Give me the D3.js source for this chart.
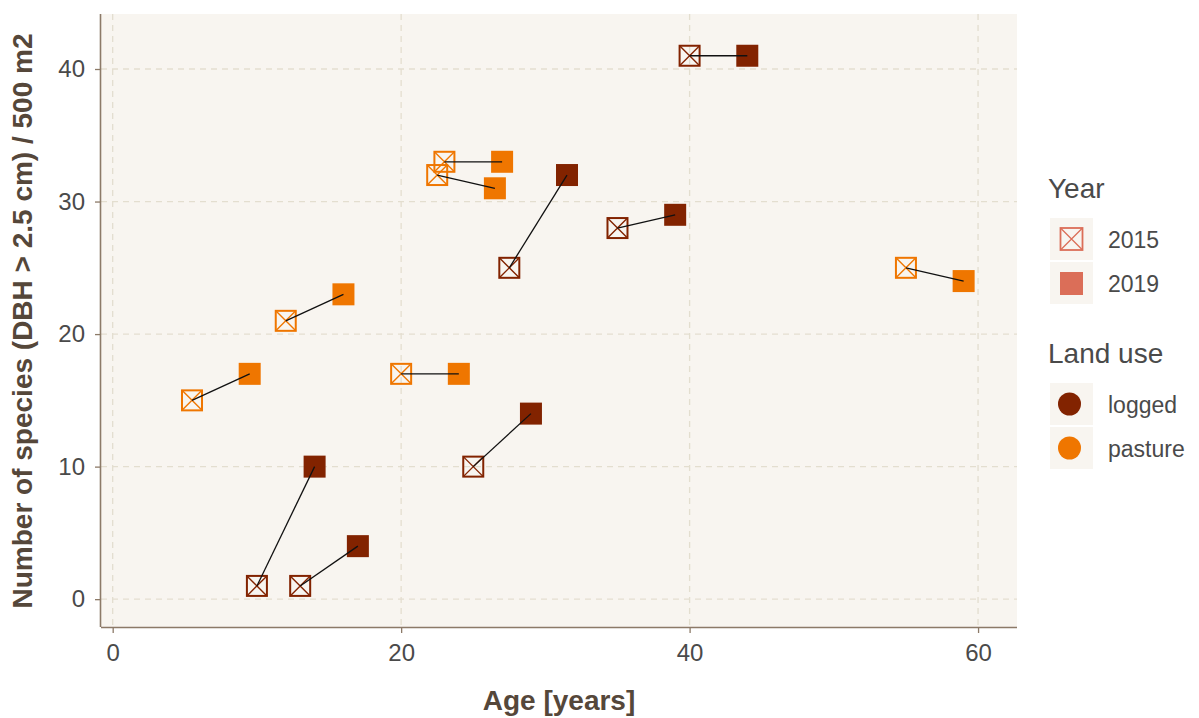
<!DOCTYPE html>
<html>
<head>
<meta charset="utf-8">
<script src="https://cdn.jsdelivr.net/npm/d3@7.9.0/dist/d3.min.js"></script>
<style>
  body { margin: 0; background: #fff; }
  svg { display: block; font-family: "Liberation Sans", Arial, sans-serif; }
</style>
</head>
<body>
<div id="chart"></div>
<script>
// plots: land use, age and species count in 2015 and 2019
const landUse = ['logged', 'logged', 'logged', 'logged', 'logged', 'logged',
                 'pasture', 'pasture', 'pasture', 'pasture', 'pasture', 'pasture'];
const age2015 = [10, 13, 25, 27.5, 35, 40, 5.5, 12, 20, 23, 22.5, 55];
const age2019 = [14, 17, 29, 31.5, 39, 44, 9.5, 16, 24, 27, 26.5, 59];
const species2015 = [1, 1, 10, 25, 28, 41, 15, 21, 17, 33, 32, 25];
const species2019 = [10, 4, 14, 32, 29, 41, 17, 23, 17, 33, 31, 24];

const xTicks = [0, 20, 40, 60];
const yTicks = [0, 10, 20, 30, 40];
const years = ['2015', '2019'];
const landUses = ['logged', 'pasture'];

const width = 1199;
const height = 718;
const panel = { left: 101, right: 1017, top: 14, bottom: 627 };

const color = d3.scaleOrdinal().domain(landUses).range(['#822300', '#EF7600']);
const yearColor = '#DB6E58';
const textColor = '#4A4A4A';

const svg = d3.select('#chart')
    .append('svg')
    .attr('width', width)
    .attr('height', height);

const xScale = d3.scaleLinear().domain([-0.81, 62.7]).range([panel.left, panel.right]);
const yScale = d3.scaleLinear().domain([-2.1, 44.15]).range([panel.bottom, panel.top]);

// panel background
svg.append('rect')
    .attr('x', panel.left)
    .attr('y', panel.top)
    .attr('width', panel.right - panel.left)
    .attr('height', panel.bottom - panel.top)
    .attr('fill', '#F8F5F0');

// gridlines
const grid = svg.append('g').attr('class', 'grid');
grid.selectAll('.vgrid')
    .data(xTicks)
    .enter()
    .append('line')
    .attr('x1', d => xScale(d)).attr('x2', d => xScale(d))
    .attr('y1', panel.top).attr('y2', panel.bottom)
    .attr('stroke', '#E3DECF').attr('stroke-width', 1.3)
    .attr('stroke-dasharray', '6,5');
grid.selectAll('.hgrid')
    .data(yTicks)
    .enter()
    .append('line')
    .attr('y1', d => yScale(d)).attr('y2', d => yScale(d))
    .attr('x1', panel.left).attr('x2', panel.right)
    .attr('stroke', '#E3DECF').attr('stroke-width', 1.3)
    .attr('stroke-dasharray', '6,5');

// axes
const xAxis = svg.append('g')
    .attr('transform', `translate(0, ${panel.bottom})`)
    .call(d3.axisBottom(xScale).tickValues(xTicks).tickSize(6).tickPadding(11).tickSizeOuter(0));
const yAxis = svg.append('g')
    .attr('transform', `translate(${panel.left}, 0)`)
    .call(d3.axisLeft(yScale).tickValues(yTicks).tickSize(6).tickPadding(10).tickSizeOuter(0));

[xAxis, yAxis].forEach(ax => {
    ax.select('.domain').attr('stroke', '#8C7A68').attr('stroke-width', 1.6);
    ax.selectAll('.tick line').attr('stroke', '#8C7A68').attr('stroke-width', 1.3);
    ax.selectAll('.tick text')
        .attr('fill', textColor)
        .attr('font-size', '24px')
        .attr('font-family', '"Liberation Sans", Arial, sans-serif');
});
xAxis.select('.domain').attr('d', `M${panel.left},0.5H${panel.right}`);
yAxis.select('.domain').attr('d', `M-0.5,${panel.top}V${panel.bottom}`);

// axis titles
svg.append('text')
    .attr('x', (panel.left + panel.right) / 2)
    .attr('y', 710)
    .attr('text-anchor', 'middle')
    .attr('font-size', '28px')
    .attr('font-weight', 'bold')
    .attr('fill', '#55473A')
    .text('Age [years]');

svg.append('text')
    .attr('transform', `translate(32, 321) rotate(-90)`)
    .attr('text-anchor', 'middle')
    .attr('font-size', '28px')
    .attr('font-weight', 'bold')
    .attr('fill', '#55473A')
    .text('Number of species (DBH > 2.5 cm) / 500 m2');

const plots = landUse.map((lu, i) => ({
    lu,
    x1: age2015[i], y1: species2015[i],
    x2: age2019[i], y2: species2019[i]
}));

const s = 11; // half size of squares

// 2019 filled squares
svg.append('g').selectAll('rect')
    .data(plots)
    .enter()
    .append('rect')
    .attr('x', d => xScale(d.x2) - s)
    .attr('y', d => yScale(d.y2) - s)
    .attr('width', 2 * s)
    .attr('height', 2 * s)
    .attr('fill', d => color(d.lu));

// 2015 squares with cross
const open = svg.append('g').selectAll('g')
    .data(plots)
    .enter()
    .append('g')
    .attr('transform', d => `translate(${xScale(d.x1)}, ${yScale(d.y1)})`);
open.append('rect')
    .attr('x', -s + 1).attr('y', -s + 1)
    .attr('width', 2 * s - 2).attr('height', 2 * s - 2)
    .attr('fill', 'none')
    .attr('stroke', d => color(d.lu))
    .attr('stroke-width', 2);
open.append('path')
    .attr('d', `M${-s + 1},${-s + 1}L${s - 1},${s - 1}M${s - 1},${-s + 1}L${-s + 1},${s - 1}`)
    .attr('stroke', d => color(d.lu))
    .attr('stroke-width', 1.4);

// connecting lines
svg.append('g').selectAll('line')
    .data(plots)
    .enter()
    .append('line')
    .attr('x1', d => xScale(d.x1)).attr('y1', d => yScale(d.y1))
    .attr('x2', d => xScale(d.x2)).attr('y2', d => yScale(d.y2))
    .attr('stroke', '#111')
    .attr('stroke-width', 1.3);

// legend
const legend = svg.append('g').attr('transform', 'translate(1048, 0)');

legend.append('text')
    .attr('x', 0).attr('y', 198)
    .attr('font-size', '28px')
    .attr('fill', textColor)
    .text('Year');

const yearItem = legend.selectAll('.year-item')
    .data(years)
    .enter()
    .append('g')
    .attr('transform', (d, i) => `translate(0, ${218 + i * 44})`);
yearItem.append('rect')
    .attr('x', 2).attr('width', 43).attr('height', 42)
    .attr('fill', '#F8F5F0');
yearItem.filter(d => d === '2015').append('rect')
    .attr('x', 12.5).attr('y', 10).attr('width', 22).attr('height', 22)
    .attr('fill', 'none').attr('stroke', yearColor).attr('stroke-width', 1.8);
yearItem.filter(d => d === '2015').append('path')
    .attr('d', 'M12.5,10L34.5,32M34.5,10L12.5,32')
    .attr('stroke', yearColor).attr('stroke-width', 1.3);
yearItem.filter(d => d === '2019').append('rect')
    .attr('x', 12).attr('y', 10).attr('width', 23).attr('height', 23)
    .attr('fill', yearColor);
yearItem.append('text')
    .attr('x', 60).attr('y', 30)
    .attr('font-size', '23px')
    .attr('fill', textColor)
    .text(d => d);

legend.append('text')
    .attr('x', 0).attr('y', 363)
    .attr('font-size', '28px')
    .attr('fill', textColor)
    .text('Land use');

const luItem = legend.selectAll('.lu-item')
    .data(landUses)
    .enter()
    .append('g')
    .attr('transform', (d, i) => `translate(0, ${383 + i * 44})`);
luItem.append('rect')
    .attr('x', 2).attr('width', 43).attr('height', 42)
    .attr('fill', '#F8F5F0');
luItem.append('circle')
    .attr('cx', 21.5).attr('cy', 21).attr('r', 11.5)
    .attr('fill', d => color(d));
luItem.append('text')
    .attr('x', 60).attr('y', 30)
    .attr('font-size', '23px')
    .attr('fill', textColor)
    .text(d => d);
</script>
</body>
</html>
